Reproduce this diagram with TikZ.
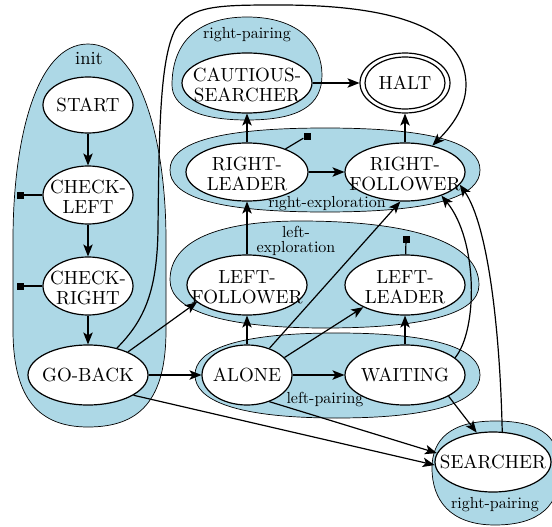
\documentclass[tikz,border=0pt]{standalone}
\usepackage{fontspec}
\setmainfont{lmroman10-regular.otf}
\usetikzlibrary{arrows.meta,shapes.geometric}
\definecolor{clusterblue}{RGB}{173,216,230}
\begin{document}
\begin{tikzpicture}[x=1pt,y=-1pt,
 cl/.style={fill=clusterblue, draw=black, line width=0.7pt},
 st/.style={ellipse, draw=black, line width=1.2pt, fill=white, inner sep=0pt},
 txt/.style={align=center, inner sep=0pt, font=\fontsize{19}{20}\selectfont},
 clab/.style={align=center, inner sep=0pt, font=\fontsize{16}{15.5}\selectfont},
 ar/.style={-{Stealth[length=12pt,width=9.5pt,inset=3pt]}, line width=1.2pt},
 ln/.style={line width=1.2pt},
 sq/.style={rectangle, fill=black, minimum size=7pt, inner sep=0pt},
]
\useasboundingbox (0,0) rectangle (552,527);
\clip (0,0) rectangle (552,527);

% clusters
\path[cl] (88,44) .. controls (36,44) and (13,140) .. (13,240) -- (13,330)
  .. controls (13,400) and (40,427) .. (88,427)
  .. controls (140,427) and (166,400) .. (166,330) -- (166,240)
  .. controls (166,140) and (140,44) .. (88,44) -- cycle;
\path[cl] (247,17) .. controls (300,17) and (322,45) .. (322,75)
  .. controls (322,105) and (300,120) .. (247,120)
  .. controls (195,120) and (172,105) .. (172,85)
  .. controls (172,45) and (195,17) .. (247,17) -- cycle;
\path[cl] (325,128) .. controls (440,128) and (480,145) .. (480,170)
  .. controls (480,195) and (440,212) .. (325,212)
  .. controls (210,212) and (170,195) .. (170,170)
  .. controls (170,145) and (210,128) .. (325,128) -- cycle;
\path[cl] (300,221) .. controls (420,221) and (479,245) .. (479,285)
  .. controls (479,315) and (420,328) .. (325,328)
  .. controls (220,328) and (170,310) .. (170,280)
  .. controls (170,240) and (220,221) .. (300,221) -- cycle;
\path[cl] (337,333) .. controls (440,333) and (480,350) .. (480,375)
  .. controls (480,400) and (440,418) .. (337,418)
  .. controls (235,418) and (195,400) .. (195,375)
  .. controls (195,350) and (235,333) .. (337,333) -- cycle;
\path[cl] (495,421) .. controls (545,421) and (560,440) .. (560,470)
  .. controls (560,505) and (540,525) .. (495,525)
  .. controls (450,525) and (432,500) .. (432,468)
  .. controls (432,440) and (450,421) .. (495,421) -- cycle;

\node[clab, font=\fontsize{18.5}{18}\selectfont] (lab-init) at (89,59) {init};
\node[clab] (lab-rp1) at (247,35) {right-pairing};
\node[clab] (lab-re) at (327,204) {right-exploration};
\node[clab] (lab-le) at (296,241) {left-\\exploration};
\node[clab] (lab-lp) at (325,400) {left-pairing};
\node[clab] (lab-rp2) at (495,505) {right-pairing};

% nodes
\node[st, minimum width=90pt, minimum height=56pt] (start) at (88,105) {};
\node[txt] (start-t) at (start) {START};
\node[st, minimum width=90pt, minimum height=58pt] (checkleft) at (88,195) {};
\node[txt] (checkleft-t) at ([yshift=-2pt]checkleft.center) {CHECK-\\LEFT};
\node[st, minimum width=90pt, minimum height=58pt] (checkright) at (88,286) {};
\node[txt] (checkright-t) at ([yshift=-2pt]checkright.center) {CHECK-\\RIGHT};
\node[st, minimum width=120pt, minimum height=60pt] (goback) at (88,375) {};
\node[txt] (goback-t) at (goback) {GO-BACK};
\node[st, minimum width=90pt, minimum height=60pt] (alone) at (247,375) {};
\node[txt] (alone-t) at (alone) {ALONE};
\node[st, minimum width=120pt, minimum height=60pt] (waiting) at (405,375) {};
\node[txt] (waiting-t) at (waiting) {WAITING};
\node[st, minimum width=120pt, minimum height=60pt] (leftfollower) at (247,285) {};
\node[txt] (leftfollower-t) at ([yshift=-2pt]leftfollower.center) {LEFT-\\FOLLOWER};
\node[st, minimum width=120pt, minimum height=60pt] (leftleader) at (405,285) {};
\node[txt] (leftleader-t) at ([yshift=-2pt]leftleader.center) {LEFT-\\LEADER};
\node[st, minimum width=122pt, minimum height=58pt] (rightleader) at (247,172) {};
\node[txt] (rightleader-t) at ([yshift=-2pt]rightleader.center) {RIGHT-\\LEADER};
\node[st, minimum width=120pt, minimum height=58pt] (rightfollower) at (405,172) {};
\node[txt] (rightfollower-t) at ([yshift=-2pt]rightfollower.center) {RIGHT-\\FOLLOWER};
\node[st, minimum width=130pt, minimum height=60pt] (cautious) at (247,83) {};
\node[txt] (cautious-t) at ([yshift=-2pt]cautious.center) {CAUTIOUS-\\SEARCHER};
\node[st, minimum width=90pt, minimum height=60pt] (halt) at (405,83) {};
\draw[line width=1.2pt] (halt.center) ellipse [x radius=40pt, y radius=26pt];
\node[txt] (halt-t) at (halt) {HALT};
\node[st, minimum width=116pt, minimum height=60pt] (searcher) at (493,462) {};
\node[txt] (searcher-t) at (searcher) {SEARCHER};

% square markers
\node[sq] (sqcl) at (20,195) {};
\node[sq] (sqcr) at (20,286) {};
\node[sq] (sqrl) at (307,136) {};
\node[sq] (sqll) at (406,239) {};

% edges
\draw[ln] (checkleft) -- (sqcl);
\draw[ln] (checkright) -- (sqcr);
\draw[ln] (rightleader) -- (sqrl);
\draw[ln] (leftleader) -- (sqll);

\draw[ar] (start) -- (checkleft);
\draw[ar] (checkleft) -- (checkright);
\draw[ar] (checkright) -- (goback);
\draw[ar] (goback) -- (alone);
\draw[ar] (goback.30) -- (leftfollower.199);
\draw[ar] (goback.-24) -- (searcher.183);
\draw[ar] (goback.43) .. controls (145,320) and (157,290) .. (158,230)
  .. controls (159,130) and (160,60) .. (175,30)
  .. controls (190,5) and (220,5) .. (280,5)
  .. controls (420,5) and (466,40) .. (466,85)
  .. controls (466,110) and (448,130) .. (rightfollower.44);
\draw[ar] (alone) -- (leftfollower);
\draw[ar] (alone.25) -- (leftleader.208);
\draw[ar] (alone.50) -- (rightfollower.-99);
\draw[ar] (alone) -- (waiting);
\draw[ar] (alone.-50) -- (searcher.171);
\draw[ar] (waiting) -- (leftleader);
\draw[ar] (waiting.-26) -- (searcher.119);
\draw[ar] (waiting.19) .. controls (478,330) and (478,240) .. (rightfollower.-33);
\draw[ar] (searcher.73) .. controls (500,330) and (488,225) .. (rightfollower.-13);
\draw[ar] (leftfollower) -- (rightleader);
\draw[ar] (rightleader) -- (rightfollower);
\draw[ar] (rightleader) -- (cautious);
\draw[ar] (rightfollower) -- (halt);
\draw[ar] (cautious) -- (halt);
\end{tikzpicture}
\end{document}
